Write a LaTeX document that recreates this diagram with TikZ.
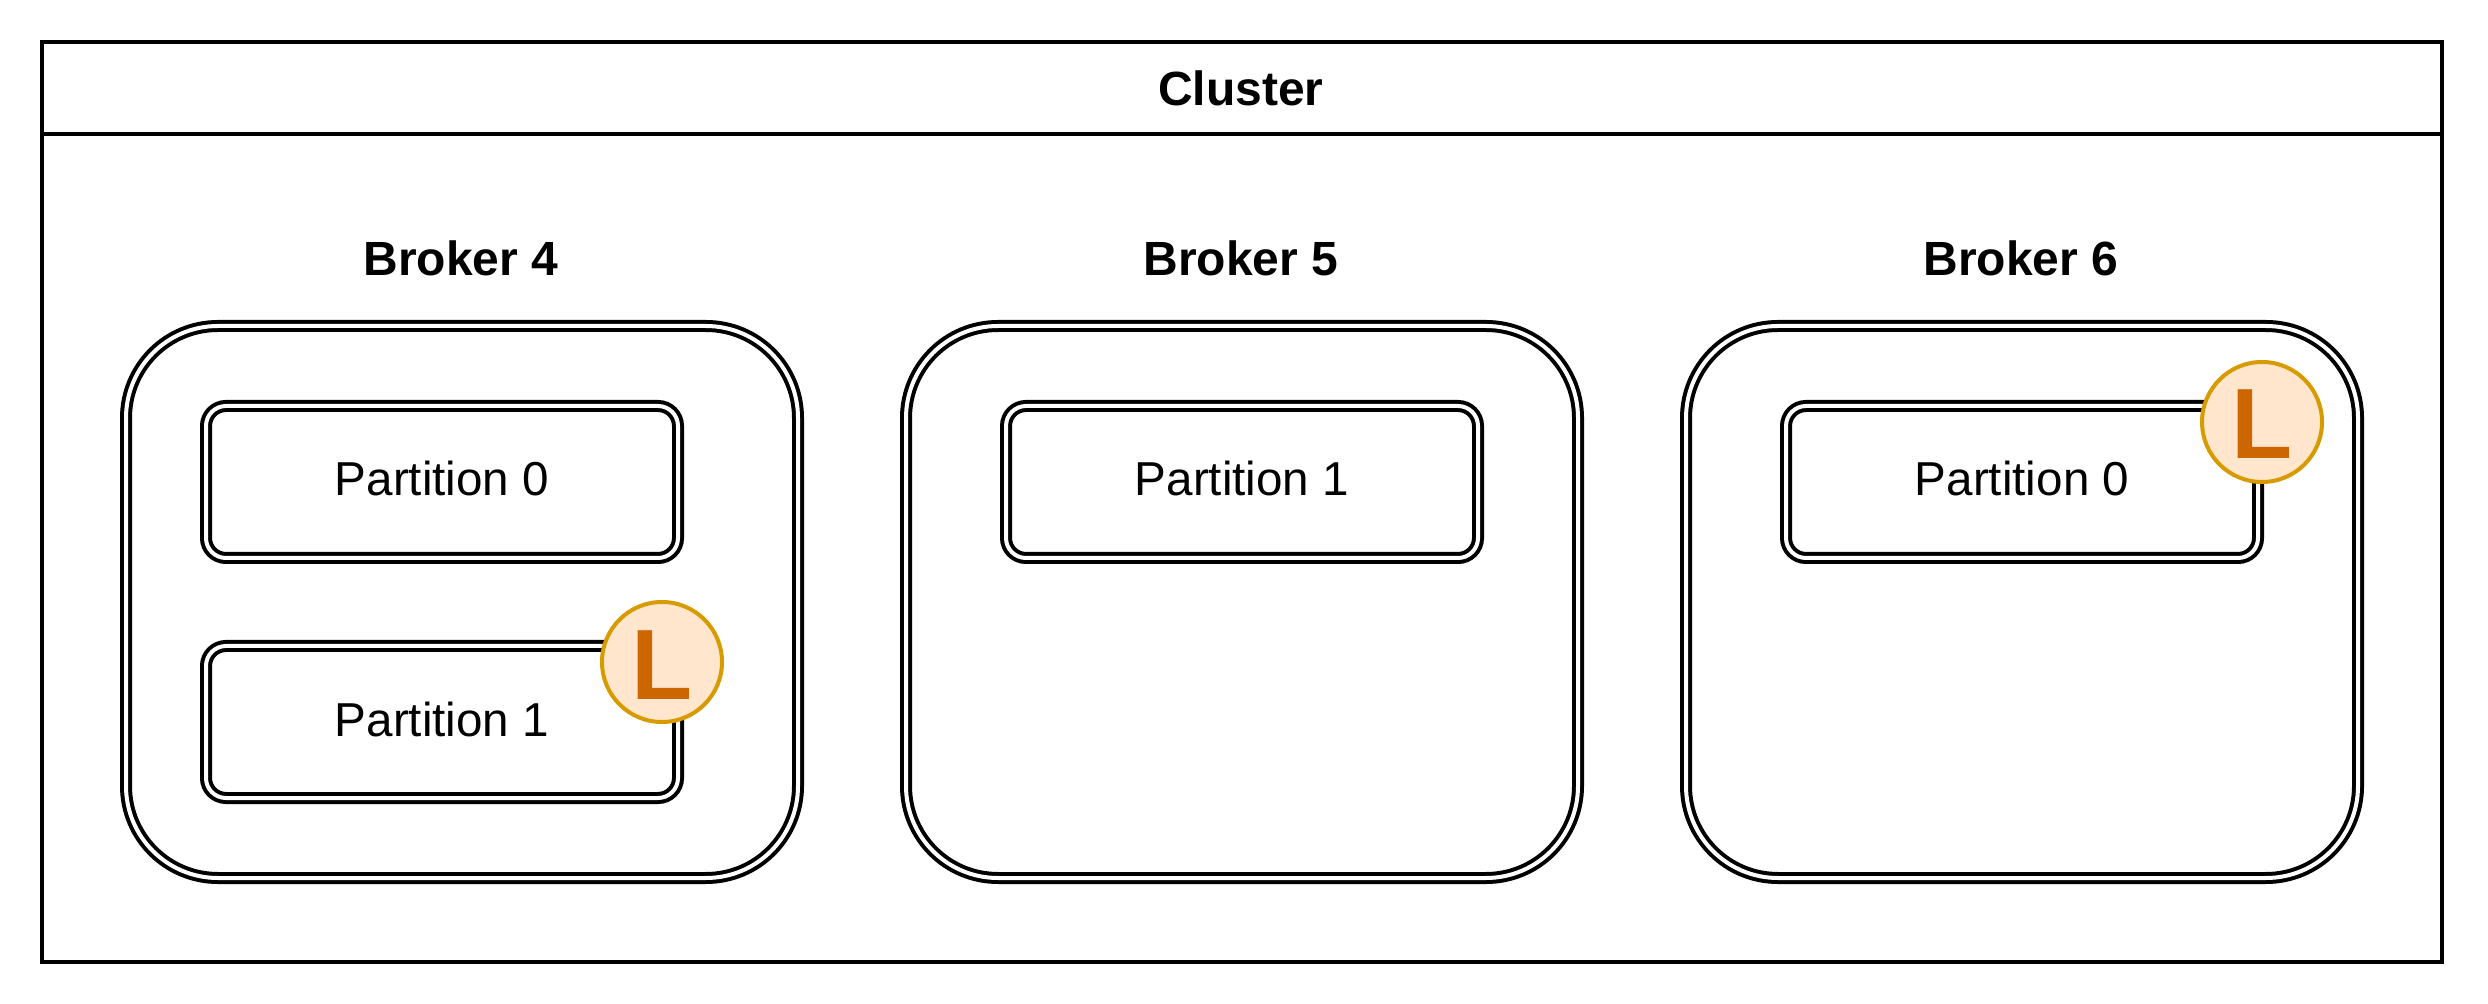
\documentclass[tikz,border=0pt]{standalone}
\usepackage{fontspec}
\setmainfont{Liberation Sans}
\usetikzlibrary{positioning, calc}
\definecolor{leaderfill}{HTML}{FFE6CC}
\definecolor{leaderline}{HTML}{D79B00}
\definecolor{leadertext}{HTML}{CC6600}

\begin{document}
\begin{tikzpicture}[
          x=1pt, y=-1pt,
          every node/.style={line width=2pt, outer sep=0pt, inner sep=0pt},
          cluster/.style={draw, minimum width=1200pt},
          heading/.style={font=\fontsize{24}{28}\selectfont\bfseries},
          broker/.style={draw, fill=white, double, double distance=2pt, rounded corners=46pt,
                         minimum width=336pt, minimum height=276pt},
          partition/.style={draw, fill=white, double, double distance=2pt, rounded corners=10pt,
                            minimum width=236pt, minimum height=76pt, text height=14pt, text depth=0pt,
                            font=\fontsize{23.8}{28}\selectfont},
          leader/.style={circle, draw=leaderline, fill=leaderfill, minimum size=60pt,
                         text height=37pt, text depth=0pt,
                         text=leadertext, font=\fontsize{50}{56}\selectfont\bfseries}
        ]
        \useasboundingbox (0,0) rectangle (1244,502);

        \node [cluster, heading, minimum height=46pt] (title) at (621,44) {\hspace*{-1.2pt}Cluster};
        \node [cluster, minimum height=414pt, below=0pt of title] (body) {};

        \node [broker] (b4) at (231,301) {};
        \node [broker, right=54pt of b4] (b5) {};
        \node [broker, right=54pt of b5] (b6) {};

        \node [heading, above=25pt of b4, anchor=base, xshift=-.6pt] (t4) {Broker 4};
        \node [heading, above=25pt of b5, anchor=base, xshift=-.6pt] (t5) {Broker 5};
        \node [heading, above=25pt of b6, anchor=base, xshift=-.6pt] (t6) {Broker 6};

        \node [partition, below=40pt of b4.north, xshift=-10pt] (p40) {Partition 0};
        \node [partition, below=44pt of p40] (p41) {Partition 1};
        \node [partition, below=40pt of b5.north] (p51) {Partition 1};
        \node [partition, below=40pt of b6.north] (p60) {Partition 0};

        \node [leader] (l41) at ($(p41.north east)+(-8,8)$) {L};
        \node [leader] (l60) at ($(p60.north east)+(2,8)$) {L};
\end{tikzpicture}
\end{document}
